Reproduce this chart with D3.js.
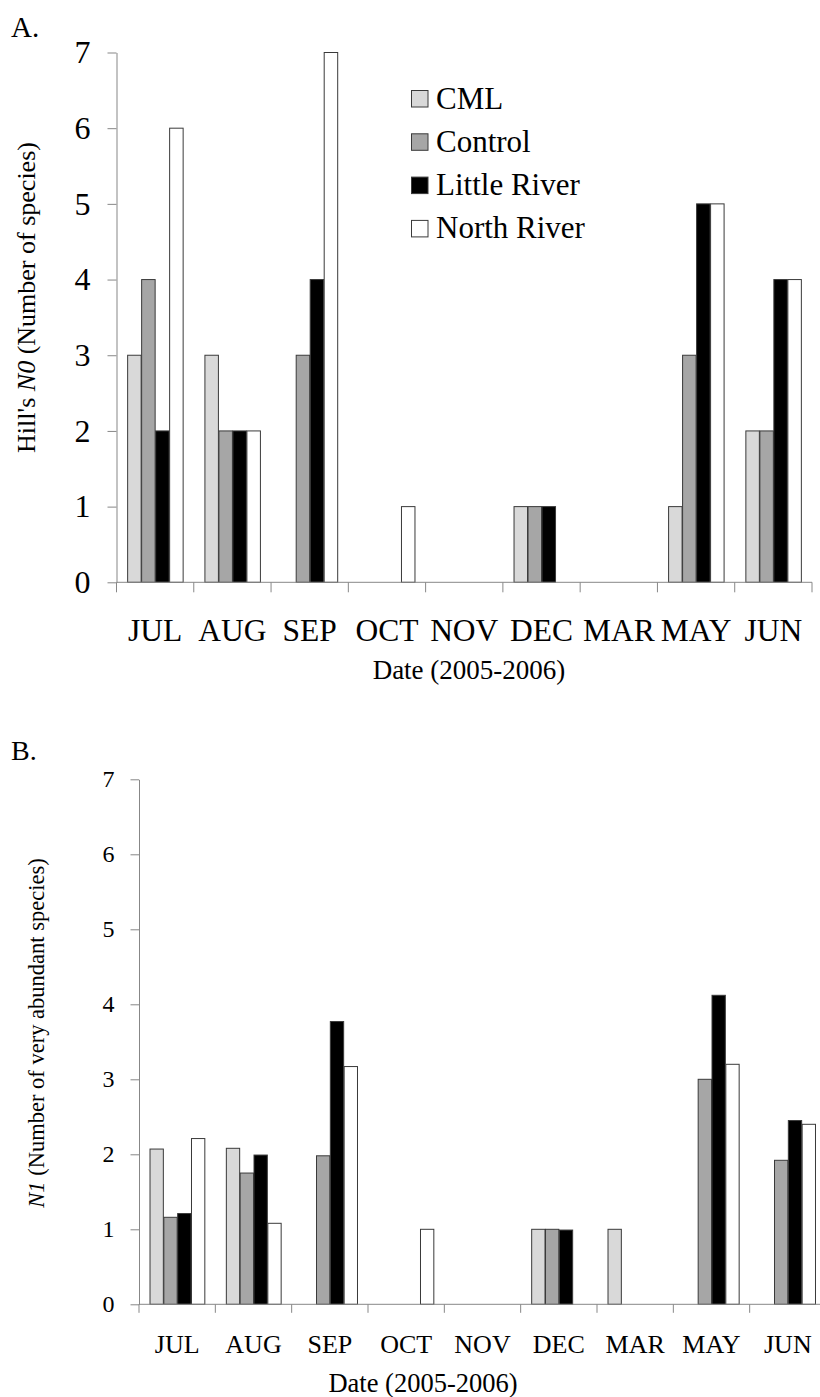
<!DOCTYPE html>
<html>
<head>
<meta charset="utf-8">
<script src="https://cdn.jsdelivr.net/npm/d3@7"></script>
<style>
  html, body { margin: 0; padding: 0; background: #fff; }
  svg { display: block; }
  text { font-family: "Liberation Serif", "Times New Roman", serif; fill: #000; }
</style>
</head>
<body>
<svg id="chart" width="820" height="1397"></svg>
<script>
// ---------- data ----------
const months = ["JUL", "AUG", "SEP", "OCT", "NOV", "DEC", "MAR", "MAY", "JUN"];
const seriesNames = ["CML", "Control", "Little River", "North River"];
const seriesFills = ["#d9d9d9", "#a6a6a6", "#000000", "#ffffff"];
const yTicks = [0, 1, 2, 3, 4, 5, 6, 7];

// Panel A: Hill's N0
const n0CML     = [3, 3, 0, 0, 0, 1, 0, 1, 2];
const n0Control = [4, 2, 3, 0, 0, 1, 0, 3, 2];
const n0Little  = [2, 2, 4, 0, 0, 1, 0, 5, 4];
const n0North   = [6, 2, 7, 1, 0, 0, 0, 5, 4];

// Panel B: N1
const n1CML     = [2.07, 2.08, 0, 0, 0, 1.00, 1.00, 0, 0];
const n1Control = [1.16, 1.75, 1.98, 0, 0, 1.00, 0, 3.00, 1.92];
const n1Little  = [1.21, 1.99, 3.77, 0, 0, 0.99, 0, 4.12, 2.45];
const n1North   = [2.21, 1.08, 3.17, 1.00, 0, 0, 0, 3.20, 2.40];

// ---------- drawing ----------
const svg = d3.select("#chart");
svg.append("rect").attr("width", 820).attr("height", 1397).attr("fill", "#fff");
const axisColor = "#878787";
const barStroke = "#3a3a3a";

function panel(cfg) {
  const g = svg.append("g");
  const x0 = d3.scaleBand().domain(months).range([cfg.x0, cfg.x1]).paddingInner(0).paddingOuter(0);
  const x1 = d3.scaleBand().domain(seriesNames).range([0, x0.bandwidth()]).paddingInner(0).paddingOuter(0.76);
  const y = d3.scaleLinear().domain([0, 7]).range([cfg.yBottom, cfg.yTop]);

  // y axis
  const yAxis = g.append("g").attr("transform", `translate(${cfg.x0},0)`)
    .call(d3.axisLeft(y).tickValues(yTicks).tickFormat(d3.format("d")).tickSize(cfg.yTickSize).tickSizeOuter(0).tickPadding(cfg.yTickPad));
  yAxis.select(".domain").attr("stroke", axisColor);
  yAxis.selectAll(".tick line").attr("stroke", axisColor);
  yAxis.selectAll(".tick text").attr("font-size", cfg.yFont).attr("font-family", "Liberation Serif, serif").attr("fill", "#000");

  // bars
  const series = cfg.values;
  const rows = [];
  months.forEach((m, i) => {
    seriesNames.forEach((s, j) => {
      const v = series[j][i];
      if (v > 0) rows.push({ m, s, v, j });
    });
  });
  g.append("g").selectAll("rect").data(rows).join("rect")
    .attr("x", d => x0(d.m) + x1(d.s) + 0.5)
    .attr("y", d => y(d.v))
    .attr("width", x1.bandwidth() - 0.5)
    .attr("height", d => y(0) - y(d.v))
    .attr("fill", d => seriesFills[d.j])
    .attr("stroke", barStroke)
    .attr("stroke-width", 1);

  // x axis line + boundary ticks
  const base = y(0);
  g.append("line").attr("x1", cfg.x0).attr("x2", cfg.x1).attr("y1", base).attr("y2", base)
    .attr("stroke", axisColor).attr("stroke-width", 1);
  const bounds = months.map(m => x0(m)).concat([cfg.x1]);
  g.append("g").selectAll("line").data(bounds).join("line")
    .attr("x1", d => d).attr("x2", d => d)
    .attr("y1", base).attr("y2", base + cfg.xTickSize)
    .attr("stroke", axisColor).attr("stroke-width", 1);

  // month labels
  g.append("g").selectAll("text").data(months).join("text")
    .attr("x", d => x0(d) + x0.bandwidth() / 2)
    .attr("y", base + cfg.xLabelOffset)
    .attr("text-anchor", "middle")
    .attr("font-size", cfg.xFont)
    .text(d => d);

  // x title
  g.append("text").attr("x", cfg.xTitleX).attr("y", cfg.xTitleY)
    .attr("text-anchor", "middle").attr("font-size", cfg.xTitleFont)
    .text("Date (2005-2006)");

  // y title
  const yt = g.append("text")
    .attr("transform", `translate(${cfg.yTitleX},${cfg.yTitleY}) rotate(-90)`)
    .attr("text-anchor", "middle").attr("font-size", cfg.yTitleFont);
  cfg.yTitleParts.forEach(p => {
    yt.append("tspan").attr("font-style", p.italic ? "italic" : "normal").text(p.t);
  });

  // panel letter
  g.append("text").attr("x", cfg.letterX).attr("y", cfg.letterY)
    .attr("font-size", cfg.letterFont).text(cfg.letter);

  return { x0, y };
}

panel({
  x0: 116.5, x1: 812, yTop: 52.5, yBottom: 582.3,
  values: [n0CML, n0Control, n0Little, n0North],
  yTickSize: 9, yTickPad: 17, yFont: 32,
  xTickSize: 10, xLabelOffset: 58.7, xFont: 31.5,
  xTitleX: 469, xTitleY: 679, xTitleFont: 27,
  yTitleX: 35, yTitleY: 297.5, yTitleFont: 26,
  yTitleParts: [{ t: "Hill's " }, { t: "N0", italic: true }, { t: " (Number of species)" }],
  letter: "A.", letterX: 11, letterY: 36.5, letterFont: 29
});

panel({
  x0: 139, x1: 826, yTop: 779.3, yBottom: 1304.3,
  values: [n1CML, n1Control, n1Little, n1North],
  yTickSize: 8.5, yTickPad: 16, yFont: 24,
  xTickSize: 8.5, xLabelOffset: 49, xFont: 26,
  xTitleX: 423, xTitleY: 1391.5, xTitleFont: 26.5,
  yTitleX: 44, yTitleY: 1033, yTitleFont: 22.5,
  yTitleParts: [{ t: "N1", italic: true }, { t: " (Number of very abundant species)" }],
  letter: "B.", letterX: 11, letterY: 760, letterFont: 28
});

// legend (panel A)
const legendTop = 90;
const legendStep = 43.3;
const legend = svg.append("g").selectAll("g").data(seriesNames).join("g")
  .attr("transform", (d, i) => `translate(411,${legendTop + i * legendStep})`);
legend.append("rect").attr("x", 0.5).attr("y", 0.5).attr("width", 16.5).attr("height", 16.5)
  .attr("fill", (d, i) => seriesFills[i]).attr("stroke", barStroke).attr("stroke-width", 1);
legend.append("text").attr("x", 25).attr("y", 18.5).attr("font-size", 31).text(d => d);
</script>
</body>
</html>
